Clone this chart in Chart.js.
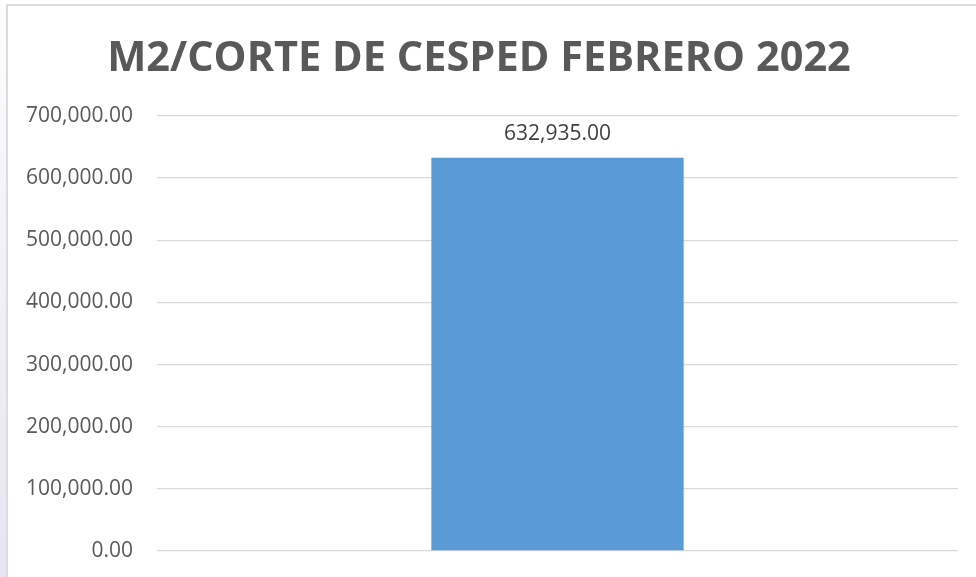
<!DOCTYPE html>
<html>
<head>
<meta charset="utf-8">
<script src="https://cdn.jsdelivr.net/npm/chart.js@4/dist/chart.umd.min.js"></script>
<style>
  html, body { margin: 0; padding: 0; background: #ffffff; }
  body { width: 976px; height: 577px; position: relative; overflow: hidden; }
  #strip { position: absolute; left: 0; top: 0; width: 6px; height: 577px;
           background: linear-gradient(to bottom, #ffffff 0%, #f4f4fa 30%, #e6e6f3 100%); }
  #frame { position: absolute; left: 6px; top: 4px; width: 990px; height: 600px;
           border-top: 2px solid #dcdcdc; border-left: 2px solid #dcdcdc; box-sizing: border-box; }
  #wrap { position: absolute; left: 0; top: 0; width: 976px; height: 577px; }
</style>
</head>
<body>
<div id="strip"></div>
<div id="frame"></div>
<div id="wrap"><canvas id="c" width="976" height="577"></canvas></div>
<script>
const titleText = "M2/CORTE DE CESPED FEBRERO 2022";
const categories = [""];
const values = [632935];
const yTicks = [0, 100000, 200000, 300000, 400000, 500000, 600000, 700000];

const fmt = v => v.toLocaleString('en-US', { minimumFractionDigits: 2, maximumFractionDigits: 2 });

const valueLabels = {
  id: 'valueLabels',
  afterDatasetsDraw(chart) {
    const ctx = chart.ctx;
    const meta = chart.getDatasetMeta(0);
    ctx.save();
    ctx.font = '21px "Open Sans"';
    ctx.fillStyle = '#404040';
    ctx.textAlign = 'center';
    ctx.textBaseline = 'alphabetic';
    meta.data.forEach((bar, i) => {
      ctx.fillText(fmt(values[i]), bar.x, bar.y - 18);
    });
    ctx.restore();
  }
};

new Chart(document.getElementById('c'), {
  type: 'bar',
  data: {
    labels: categories,
    datasets: [{
      data: values,
      backgroundColor: '#5b9bd5',
      borderWidth: 0,
      barPercentage: 0.315,
      categoryPercentage: 1.0
    }]
  },
  options: {
    responsive: false,
    animation: false,
    devicePixelRatio: 1,
    layout: { padding: { left: 0, right: 18, top: 0, bottom: 26 } },
    plugins: {
      legend: { display: false },
      tooltip: { enabled: false },
      title: {
        display: true,
        text: titleText,
        color: '#595959',
        font: { family: '"Open Sans"', size: 41.5, weight: 'bold', lineHeight: 1.2 },
        padding: { top: 34, bottom: 32.2 }
      }
    },
    scales: {
      x: {
        display: false,
        grid: { display: false }
      },
      y: {
        min: 0,
        max: 700000,
        afterBuildTicks(scale) { scale.ticks = yTicks.map(v => ({ value: v })); },
        afterFit(scale) {
          scale.width = 157;
          scale.paddingTop = 0;
          scale.paddingBottom = 0;
        },
        ticks: {
          color: '#595959',
          font: { family: '"Open Sans"', size: 21 },
          padding: 24,
          callback: v => fmt(v)
        },
        grid: { color: '#d9d9d9', lineWidth: 1.3, drawTicks: false },
        border: { display: false }
      }
    }
  },
  plugins: [valueLabels]
});
</script>
</body>
</html>
